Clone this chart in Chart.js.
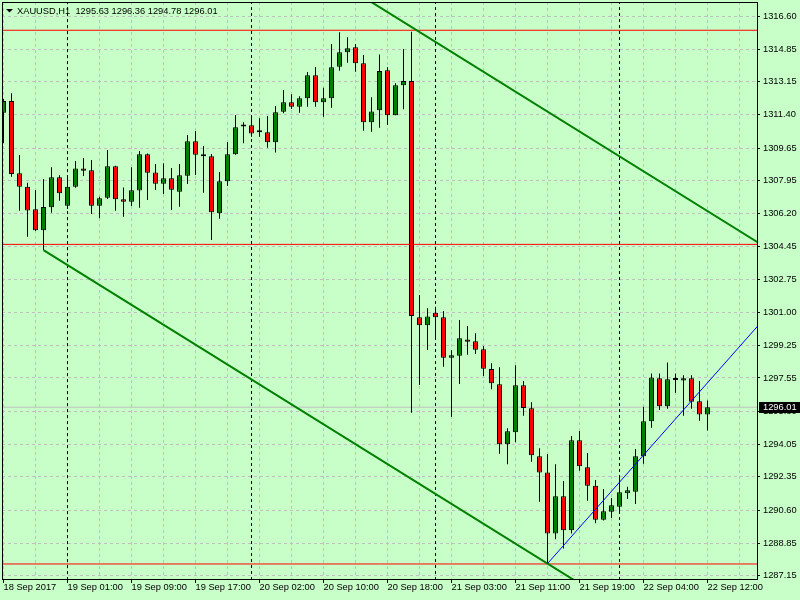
<!DOCTYPE html>
<html><head><meta charset="utf-8">
<script src="https://cdn.jsdelivr.net/npm/chart.js@4"></script>
<style>html,body{margin:0;padding:0;background:#c8ffc8;}canvas{display:block;}</style>
</head><body>
<canvas id="c" width="800" height="600"></canvas>
<script>
// ---- data ----
const symbolLabel = 'XAUUSD,H1';
const opens  = [1311.51,1312.13,1308.32,1307.62,1306.43,1305.32,1306.53,1308.11,1306.62,1307.62,
                1308.58,1308.48,1306.62,1307.04,1308.69,1306.95,1306.83,1307.41,1309.32,1308.37,
                1307.77,1308.06,1307.35,1308.19,1310.01,1309.32,1309.22,1306.22,1307.90,1309.32,
                1310.78,1310.85,1310.48,1310.48,1309.95,1311.56,1312.06,1311.83,1312.27,1313.48,
                1312.06,1312.27,1313.93,1314.69,1314.95,1314.11,1311.01,1311.64,1313.74,1311.37,
                1312.95,1313.18,1300.74,1300.32,1300.98,1300.74,1298.62,1298.72,1299.58,1299.48,
                1299.06,1298.02,1297.22,1294.06,1294.69,1297.16,1295.95,1293.43,1292.58,1289.37,
                1291.32,1289.53,1294.27,1292.85,1291.88,1290.09,1290.51,1290.77,1291.48,1291.56,
                1293.43,1295.27,1297.53,1296.06,1297.44,1297.42,1297.53,1296.32,1295.63];
const highs  = [1312.23,1312.53,1309.28,1307.83,1307.44,1308.02,1308.64,1308.22,1308.14,1308.97,
                1309.13,1309.02,1307.09,1309.55,1308.72,1307.58,1308.64,1309.49,1309.36,1308.81,
                1308.85,1308.60,1308.81,1310.34,1310.55,1309.76,1309.34,1308.39,1309.97,1311.39,
                1311.01,1311.39,1311.22,1311.34,1311.86,1312.71,1312.48,1312.37,1313.65,1313.92,
                1312.83,1315.13,1315.74,1315.48,1315.13,1314.55,1312.32,1314.58,1313.90,1313.06,
                1314.86,1315.77,1301.92,1301.22,1301.30,1301.07,1299.01,1300.60,1300.28,1299.90,
                1299.23,1298.32,1298.11,1294.90,1298.22,1297.39,1296.27,1293.85,1293.55,1293.01,
                1292.13,1294.49,1294.76,1293.60,1292.18,1291.71,1291.23,1292.35,1291.83,1293.81,
                1296.04,1297.79,1297.79,1298.37,1297.79,1297.69,1297.69,1297.39,1296.36];
const lows   = [1309.90,1308.14,1306.35,1304.98,1305.28,1304.28,1306.25,1306.88,1306.44,1307.56,
                1308.18,1306.18,1305.95,1306.97,1306.35,1306.04,1306.60,1306.51,1306.92,1307.44,
                1307.23,1306.39,1306.56,1307.76,1308.23,1307.30,1304.81,1305.93,1307.65,1309.30,
                1309.90,1310.25,1310.25,1309.67,1309.41,1311.48,1311.71,1311.51,1311.83,1311.83,
                1311.30,1311.77,1313.72,1314.14,1313.67,1310.56,1310.51,1310.72,1310.86,1311.37,
                1311.69,1295.72,1297.18,1299.02,1299.64,1298.14,1295.51,1297.23,1298.77,1298.81,
                1297.65,1296.95,1293.56,1293.01,1294.16,1295.56,1293.14,1291.04,1287.78,1289.06,
                1288.58,1289.37,1292.67,1291.09,1289.90,1290.05,1290.18,1290.48,1291.18,1290.92,
                1293.04,1294.93,1295.86,1295.93,1296.77,1295.56,1295.93,1295.30,1294.78];
const closes = [1312.13,1308.28,1307.62,1306.37,1305.32,1306.55,1308.11,1307.27,1307.62,1308.58,
                1308.46,1306.62,1307.01,1308.69,1306.95,1306.83,1307.43,1309.32,1308.35,1307.77,
                1308.06,1307.46,1308.22,1310.01,1309.30,1309.22,1306.27,1307.90,1309.32,1310.74,
                1310.78,1310.41,1310.48,1309.95,1311.53,1312.06,1311.83,1312.27,1313.48,1312.06,
                1312.27,1313.90,1314.69,1314.90,1314.11,1311.01,1311.58,1313.71,1311.37,1312.95,
                1313.18,1300.81,1300.32,1300.79,1300.74,1298.62,1298.74,1299.64,1299.46,1299.04,
                1298.04,1297.27,1294.06,1294.74,1297.16,1295.97,1293.48,1292.58,1289.37,1291.32,
                1289.53,1294.27,1292.90,1291.88,1290.09,1290.53,1290.85,1291.53,1291.64,1293.43,
                1295.27,1297.58,1296.06,1297.48,1297.44,1297.53,1296.30,1295.63,1296.01];
const timeTickBars   = [0, 8, 16, 24, 32, 40, 48, 56, 64, 72, 80, 88];
const timeTickLabels = ['18 Sep 2017','19 Sep 01:00','19 Sep 09:00','19 Sep 17:00','20 Sep 02:00','20 Sep 10:00',
                        '20 Sep 18:00','21 Sep 03:00','21 Sep 11:00','21 Sep 19:00','22 Sep 04:00','22 Sep 12:00'];
const priceTicks = [1316.60,1314.85,1313.15,1311.40,1309.65,1307.95,1306.20,1304.45,1302.75,1301.00,
                    1299.25,1297.55,1295.80,1294.05,1292.35,1290.60,1288.85,1287.15];
const daySeparatorBars = [8, 31, 54, 77];
const redLevels = [1315.85, 1304.58, 1287.76];
const channelLowerA = [5, 1304.28];
const channelLowerB = [68, 1287.78];
const channelUpperAnchor = [56, 1314.71];
const trendA = [68, 1287.78];
const trendB = [92, 1299.20];

// ---- view ----
const X_MIN = -0.1875, X_MAX = 94.1875;
const Y_MIN = 1286.969, Y_MAX = 1317.337;
const BG = '#c8ffc8';
const GRID = '#c0c0c0';
const BULL = '#008000', BEAR = '#ff0000';
const FONT = '"Liberation Sans", Arial, sans-serif';
const FSIZE = 9.3;

Chart.defaults.font.family = FONT;
Chart.defaults.font.size = FSIZE;
Chart.defaults.color = '#000';

const n = closes.length;
const lineAt = (a, b, x) => a[1] + (b[1] - a[1]) / (b[0] - a[0]) * (x - a[0]);
const slope = (channelLowerB[1] - channelLowerA[1]) / (channelLowerB[0] - channelLowerA[0]);
const upperAt = x => channelUpperAnchor[1] + slope * (x - channelUpperAnchor[0]);
const xEnd = X_MAX + 2;

const sepData = [];
daySeparatorBars.forEach(b => { sepData.push({x: b, y: Y_MIN - 1}, {x: b, y: Y_MAX + 1}, {x: b, y: null}); });
const redData = [];
redLevels.forEach(v => { redData.push({x: X_MIN - 1, y: v}, {x: xEnd, y: v}, {x: xEnd, y: null}); });

const lineBase = {type: 'line', pointRadius: 0, fill: false, tension: 0, clip: 0, spanGaps: false};
const noPad = s => { s.paddingLeft = 0; s.paddingRight = 0; s.paddingTop = 0; s.paddingBottom = 0; };

new Chart(document.getElementById('c'), {
  type: 'bar',
  data: {
    datasets: [
      Object.assign({}, lineBase, {data: sepData, borderColor: '#000', borderWidth: 1, borderDash: [3, 3], order: 10}),
      Object.assign({}, lineBase, {data: [{x: X_MIN - 1, y: closes[n - 1]}, {x: xEnd, y: closes[n - 1]}], borderColor: GRID, borderWidth: 1, order: 9}),
      {type: 'bar', data: lows.map((l, i) => ({x: i, y: [l, highs[i]]})), backgroundColor: '#000', borderWidth: 0,
       barThickness: 1, grouped: false, inflateAmount: 0, order: 6},
      {type: 'bar', data: opens.map((o, i) => ({x: i, y: [o, closes[i]]})),
       backgroundColor: opens.map((o, i) => closes[i] > o ? BULL : (closes[i] < o ? BEAR : '#000')),
       borderColor: '#000', borderWidth: 1, borderSkipped: false, barThickness: 5, minBarLength: 2,
       grouped: false, inflateAmount: 0, order: 5},
      Object.assign({}, lineBase, {data: redData, borderColor: '#ff0000', borderWidth: 1, order: 3}),
      Object.assign({}, lineBase, {data: [{x: channelLowerA[0], y: channelLowerA[1]}, {x: xEnd, y: lineAt(channelLowerA, channelLowerB, xEnd)}],
        borderColor: '#008000', borderWidth: 2, order: 2}),
      Object.assign({}, lineBase, {data: [{x: channelLowerA[0], y: upperAt(channelLowerA[0])}, {x: xEnd, y: upperAt(xEnd)}],
        borderColor: '#008000', borderWidth: 2, order: 2}),
      Object.assign({}, lineBase, {data: [{x: trendA[0], y: trendA[1]}, {x: xEnd, y: lineAt(trendA, trendB, xEnd)}],
        borderColor: '#0000ff', borderWidth: 1, order: 1})
    ]
  },
  options: {
    responsive: false,
    animation: false,
    devicePixelRatio: 1,
    layout: {padding: {top: 2, left: 2, right: 0, bottom: 0}, autoPadding: false},
    plugins: {legend: {display: false}, tooltip: {enabled: false}, title: {display: false}},
    events: [],
    scales: {
      x: {
        type: 'linear', position: 'bottom', min: X_MIN, max: X_MAX, offset: false,
        afterBuildTicks: s => { const t = []; for (let v = 0; v <= 92; v += 4) t.push({value: v}); s.ticks = t; },
        afterFit: s => { s.height = 21; noPad(s); },
        grid: {offset: false, color: GRID, lineWidth: 1, tickLength: 4,
               tickColor: c => (c.tick && timeTickBars.indexOf(c.tick.value) >= 0) ? '#000' : 'rgba(0,0,0,0)'},
        border: {display: false, dash: [3, 3]},
        ticks: {autoSkip: false, maxRotation: 0, minRotation: 0, align: 'start', padding: 0,
                font: {lineHeight: 1},
                callback: v => { const k = timeTickBars.indexOf(v); return k >= 0 ? timeTickLabels[k] : ''; }}
      },
      y: {
        type: 'linear', position: 'right', min: Y_MIN, max: Y_MAX, offset: false,
        afterBuildTicks: s => { s.ticks = priceTicks.map(v => ({value: v})); },
        afterFit: s => { s.width = 43; noPad(s); },
        grid: {color: GRID, lineWidth: 1, tickLength: 3, tickColor: '#000'},
        border: {display: false, dash: [3, 3]},
        ticks: {autoSkip: false, padding: 3, font: {lineHeight: 1}, callback: v => Number(v).toFixed(2)}
      }
    }
  },
  plugins: [{
    id: 'mt4',
    beforeDraw(chart) {
      const ctx = chart.ctx;
      ctx.save(); ctx.fillStyle = BG; ctx.fillRect(0, 0, chart.width, chart.height); ctx.restore();
    },
    afterDraw(chart) {
      const ctx = chart.ctx, a = chart.chartArea, ys = chart.scales.y;
      ctx.save();
      ctx.setLineDash([]);
      ctx.strokeStyle = '#000'; ctx.lineWidth = 1;
      ctx.strokeRect(a.left + 0.5, a.top + 0.5, a.right - a.left, a.bottom - a.top);
      // current price label
      const last = closes[n - 1];
      const py = Math.round(ys.getPixelForValue(last));
      ctx.fillStyle = '#000';
      ctx.fillRect(a.right + 2, py - 5, chart.width - a.right - 2, 11);
      ctx.fillStyle = '#fff';
      ctx.font = FSIZE + 'px ' + FONT;
      ctx.textBaseline = 'middle'; ctx.textAlign = 'left';
      ctx.fillText(last.toFixed(2), a.right + 6, py + 0.5);
      // header
      ctx.fillStyle = '#000';
      ctx.beginPath(); ctx.moveTo(6, 9); ctx.lineTo(13, 9); ctx.lineTo(9.5, 12.5); ctx.closePath(); ctx.fill();
      const hdr = symbolLabel + '  ' + [opens[n - 1], highs[n - 1], lows[n - 1], closes[n - 1]].map(v => v.toFixed(2)).join(' ');
      ctx.fillText(hdr, 17, 11);
      ctx.restore();
    }
  }]
});
</script>
</body></html>
